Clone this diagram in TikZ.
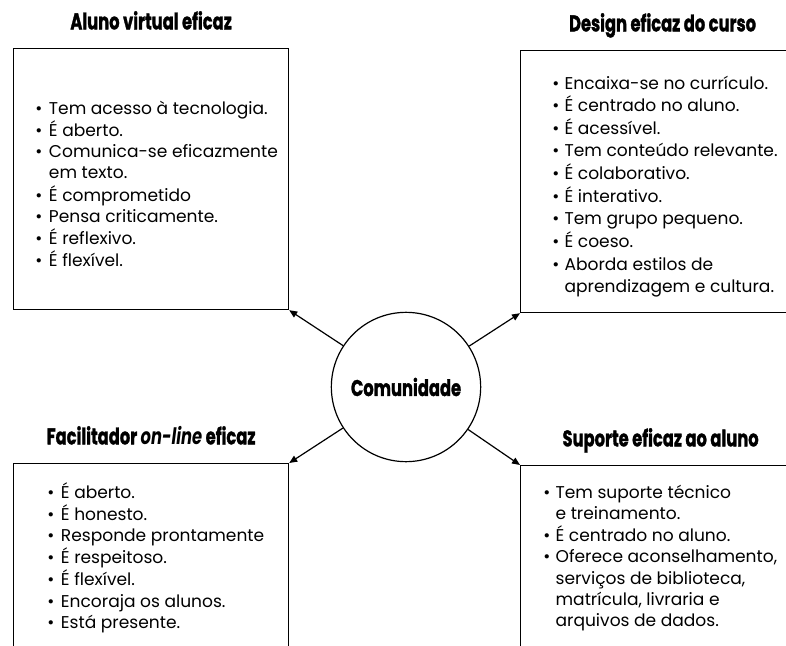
\documentclass[tikz,border=0pt]{standalone}
\usepackage{fontspec}
\setmainfont{Poppins}
\newfontfamily\pesado[BoldFeatures={FakeBold=1.6}]{Poppins}
\usetikzlibrary{arrows.meta}

\newcommand{\estreito}[1]{\scalebox{0.72}[1]{#1}}
\newcommand{\bl}{\textbullet}

\tikzset{
    caixa/.style={draw, rectangle, line width=0.9pt, inner sep=0pt, anchor=north west},
    lista/.style={anchor=base west, inner sep=0pt, font=\fontsize{12.8}{16}\selectfont},
    titulo/.style={anchor=base, inner sep=0pt, font=\pesado\bfseries\fontsize{17}{19}\selectfont},
    seta/.style={line width=0.9pt, -{Triangle[length=6pt,width=5pt]}},
}

\begin{document}
\begin{tikzpicture}[x=0.75pt,y=-0.75pt]
    \useasboundingbox (0,0) rectangle (786,646);
    \clip (0,0) rectangle (786,646);
    % Caixas
    \node[caixa, minimum width=206.25pt, minimum height=195.75pt] (aluno) at (13,48) {};
    \node[caixa, minimum width=210pt, minimum height=196.5pt] (design) at (520,50) {};
    \node[caixa, minimum width=206.25pt, minimum height=150pt] (facil) at (13,463) {};
    \node[caixa, minimum width=210pt, minimum height=150pt] (suporte) at (520,465) {};
    % Circulo central
    \node[circle, draw, line width=0.9pt, minimum size=112pt, inner sep=0pt,
          font=\pesado\bfseries\fontsize{17}{19}\selectfont] (comunidade) at (406,387) {\estreito{Comunidade}};
    % Titulos
    \node[titulo] (tAluno) at ([yshift=14pt]aluno.north) {\estreito{Aluno virtual eficaz}};
    \node[titulo] (tDesign) at ([xshift=1.5pt,yshift=14pt]design.north) {\estreito{Design eficaz do curso}};
    \node[titulo] (tFacil) at ([yshift=14pt]facil.north) {\estreito{Facilitador \textit{on-line} eficaz}};
    \node[titulo] (tSuporte) at ([yshift=14pt]suporte.north) {\estreito{Suporte eficaz ao aluno}};
    % Listas
    \node[lista] (lAluno) at ([xshift=16.5pt,yshift=-49.5pt]aluno.north west) {%
        \begin{tabular}[t]{@{}c@{\hspace{5pt}}l@{}}
            \bl & Tem acesso à tecnologia.\\
            \bl & É aberto.\\
            \bl & Comunica-se eficazmente\\
                & em texto.\\
            \bl & É comprometido\\
            \bl & Pensa criticamente.\\
            \bl & É reflexivo.\\
            \bl & É flexível.
        \end{tabular}};
    \node[lista, font=\fontsize{12.8}{17}\selectfont] (lDesign) at ([xshift=24pt,yshift=-29.25pt]design.north west) {%
        \begin{tabular}[t]{@{}c@{\hspace{4pt}}l@{}}
            \bl & Encaixa-se no currículo.\\
            \bl & É centrado no aluno.\\
            \bl & É acessível.\\
            \bl & Tem conteúdo relevante.\\
            \bl & É colaborativo.\\
            \bl & É interativo.\\
            \bl & Tem grupo pequeno.\\
            \bl & É coeso.\\
            \bl & Aborda estilos de\\
                & aprendizagem e cultura.
        \end{tabular}};
    \node[lista] (lFacil) at ([xshift=25.5pt,yshift=-26.25pt]facil.north west) {%
        \begin{tabular}[t]{@{}c@{\hspace{5pt}}l@{}}
            \bl & É aberto.\\
            \bl & É honesto.\\
            \bl & Responde prontamente\\
            \bl & É respeitoso.\\
            \bl & É flexível.\\
            \bl & Encoraja os alunos.\\
            \bl & Está presente.
        \end{tabular}};
    \node[lista] (lSuporte) at ([xshift=17.25pt,yshift=-24.75pt]suporte.north west) {%
        \begin{tabular}[t]{@{}c@{\hspace{4pt}}l@{}}
            \bl & Tem suporte técnico\\
                & e treinamento.\\
            \bl & É centrado no aluno.\\
            \bl & Oferece aconselhamento,\\
                & serviços de biblioteca,\\
                & matrícula, livraria e\\
                & arquivos de dados.
        \end{tabular}};
    % Setas
    \foreach \caixa/\canto in {aluno/south east, design/south west, facil/north east, suporte/north west} {%
        \draw[seta] (comunidade) -- (\caixa.\canto);
    }
\end{tikzpicture}
\end{document}
